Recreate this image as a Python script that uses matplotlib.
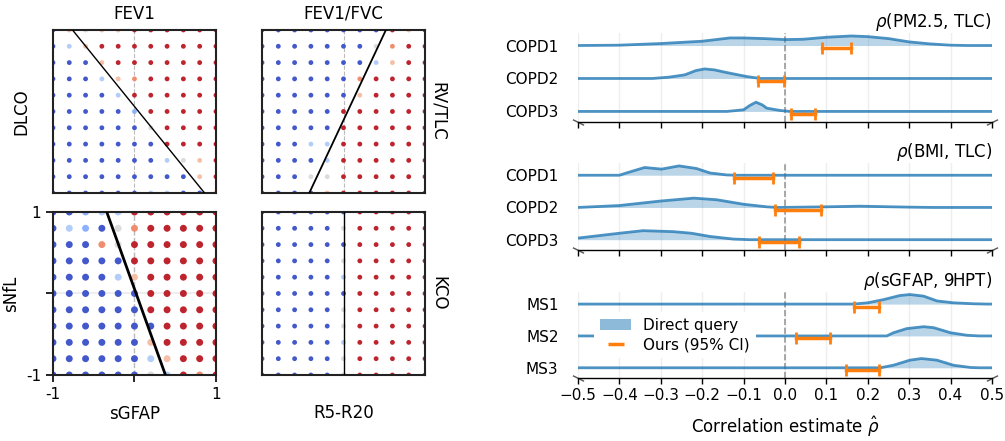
import numpy as np
import matplotlib.pyplot as plt
from matplotlib.patches import Patch
from matplotlib.lines import Line2D

# ---- left: decision grids (rows from y=1 down to y=-1, columns x=-1..1)
grid_vals = [-1.0, -0.8, -0.6, -0.4, -0.2, 0.0, 0.2, 0.4, 0.6, 0.8, 1.0]

fev1_dlco = ["BogooRRRRRR", "BloRRRRRRRR", "BBBoRRRRRRR", "BBBloORRRRR",
             "BBBBlRRRRRR", "BBBBBbRRRRR", "BBBBBBgRRRR", "BBBBBBBRRRR",
             "BBBBBBBlgoR", "BBBBBBBBBoR", "BBBBBBllBBo"]
sgfap_snfl = ["BBbllRRRRRR", "BlbBgORRRRR", "BBBOgRRRRRR", "BBBBBRRRRRR",
              "BBBBloRRRRR", "BBBBBBRRRRR", "BBBBBBRRRRR", "BBBBBBBRRRR",
              "BBBBBBoRRRR", "BBBBBBloRRR", "BBBBBBglROR"]
fvc_rvtlc = ["BBBBBBBBRoR", "BBBBBBBgORR", "BBBBBBBloRR", "BBBBBBORRRR",
             "BBBBBBoRRRR", "BBBBBRRRRRR", "BBBBBRRRRRR", "BBBllRRRRRR",
             "BBBBlRRRRRR", "BBBggRRRRRR", "BBBBoRRRRRR"]
r520_kco = ["BBBBBBRRRRR", "BBBBBgRRRRR", "BBBBBBRRRRR", "BBBBBgRRRRR",
            "BBBBBlRRRRR", "BBBBBBRRRRR", "BBBBBgRRRRR", "BBBBBgRRRRR",
            "BBBBBlRRRRR", "BBBBBgRRRRR", "BBBBBgRRRRR"]

# boundary lines: (x at y=1, x at y=-1)
fev1_dlco_line = (-0.76, 0.86)
sgfap_snfl_line = (-0.34, 0.38)
fvc_rvtlc_line = (0.52, -0.42)
r520_kco_line = (0.0, 0.0)

code_val = {'B': 0.03, 'b': 0.25, 'l': 0.36, 'g': 0.5, 'o': 0.64, 'O': 0.78, 'R': 0.97}

# ---- right: ridgelines
x_ticks = [-0.5, -0.4, -0.3, -0.2, -0.1, 0.0, 0.1, 0.2, 0.3, 0.4, 0.5]

pm_rows = ["COPD1", "COPD2", "COPD3"]
pm_c1_x = [-0.5, -0.4, -0.3, -0.2, -0.133, -0.1, -0.05, 0.0, 0.044, 0.1, 0.16, 0.2, 0.25, 0.3, 0.35, 0.4, 0.44, 0.5]
pm_c1_h = [0, 0.01, 0.06, 0.13, 0.23, 0.23, 0.21, 0.18, 0.19, 0.25, 0.29, 0.27, 0.21, 0.11, 0.05, 0.01, 0, 0]
pm_c2_x = [-0.5, -0.32, -0.28, -0.242, -0.215, -0.194, -0.17, -0.141, -0.093, -0.06, 0.5]
pm_c2_h = [0, 0, 0.04, 0.11, 0.24, 0.29, 0.26, 0.18, 0.06, 0, 0]
pm_c3_x = [-0.5, -0.14, -0.10, -0.085, -0.07, -0.055, -0.044, -0.012, 0.012, 0.5]
pm_c3_h = [0, 0, 0.05, 0.18, 0.28, 0.20, 0.10, 0.03, 0, 0]
pm_ci_lo = [0.09, -0.066, 0.015]
pm_ci_hi = [0.159, -0.002, 0.073]

bmi_rows = ["COPD1", "COPD2", "COPD3"]
bmi_c1_x = [-0.5, -0.40, -0.383, -0.339, -0.298, -0.256, -0.214, -0.181, -0.141, -0.12, 0.5]
bmi_c1_h = [0, 0, 0.07, 0.24, 0.19, 0.29, 0.21, 0.07, 0.01, 0, 0]
bmi_c2_x = [-0.5, -0.4, -0.3, -0.22, -0.165, -0.1, -0.044, -0.02, 0.1, 0.18, 0.3, 0.36, 0.5]
bmi_c2_h = [0, 0.06, 0.20, 0.29, 0.24, 0.10, 0.02, 0, 0.02, 0.04, 0.01, 0, 0]
bmi_c3_x = [-0.5, -0.4, -0.343, -0.27, -0.226, -0.181, -0.125, -0.085, 0.5]
bmi_c3_h = [0.05, 0.20, 0.28, 0.25, 0.20, 0.10, 0.02, 0, 0]
bmi_ci_lo = [-0.123, -0.025, -0.062]
bmi_ci_hi = [-0.029, 0.086, 0.035]

ms_rows = ["MS1", "MS2", "MS3"]
ms_c1_x = [-0.5, 0.165, 0.2, 0.238, 0.278, 0.302, 0.335, 0.367, 0.407, 0.456, 0.49, 0.5]
ms_c1_h = [0, 0, 0.04, 0.14, 0.27, 0.30, 0.25, 0.10, 0.04, 0.01, 0, 0]
ms_c2_x = [-0.5, 0.246, 0.262, 0.294, 0.335, 0.359, 0.4, 0.44, 0.47, 0.5]
ms_c2_h = [0, 0, 0.10, 0.23, 0.29, 0.26, 0.10, 0.02, 0, 0]
ms_c3_x = [-0.5, 0.23, 0.262, 0.302, 0.33, 0.367, 0.407, 0.448, 0.47, 0.5]
ms_c3_h = [0, 0, 0.08, 0.24, 0.29, 0.24, 0.08, 0.01, 0, 0]
ms_ci_lo = [0.166, 0.026, 0.148]
ms_ci_hi = [0.227, 0.108, 0.227]

BLUE = "#1f77b4"
ORANGE = "#ff7f0e"

fig = plt.figure(figsize=(10.05, 4.41), dpi=100)

def grid_panel(rect, codes, line, size, lw):
    ax = fig.add_axes(rect)
    X, Y, C = [], [], []
    for i, row in enumerate(codes):
        for j, ch in enumerate(row):
            X.append(grid_vals[j]); Y.append(grid_vals[::-1][i])
            C.append(plt.cm.coolwarm(code_val[ch]))
    ax.scatter(X, Y, s=size, c=C, linewidths=0, zorder=2)
    ax.plot([line[0], line[1]], [1, -1], color='k', lw=lw, zorder=3)
    ax.set_xlim(-1, 1); ax.set_ylim(-1, 1)
    ax.set_xticks([]); ax.set_yticks([])
    for s in ax.spines.values():
        s.set_linewidth(1.5); s.set_color('#222222')
    return ax

ax_tl = grid_panel([0.0527, 0.5624, 0.1622, 0.3696], fev1_dlco, fev1_dlco_line, 12, 1.0)
ax_tl.axvline(0, color='#bbbbbb', ls='--', lw=0.8, zorder=1)
ax_tl.set_title("FEV1", fontsize=12, pad=8)
ax_tl.set_ylabel("DLCO", fontsize=12, labelpad=16)

ax_bl = grid_panel([0.0527, 0.1497, 0.1622, 0.3696], sgfap_snfl, sgfap_snfl_line, 25, 2.0)
ax_bl.axvline(0, color='#bbbbbb', ls='--', lw=1.0, zorder=1)
ax_bl.axhline(0, color='#eeeeee', lw=1.5, zorder=1)
ax_bl.set_xticks([-1, 0, 1]); ax_bl.set_xticklabels(['-1', '', '1'], fontsize=11)
ax_bl.set_yticks([-1, 0, 1]); ax_bl.set_yticklabels(['-1', '', '1'], fontsize=11)
ax_bl.tick_params(length=5, width=1.2)
ax_bl.set_xlabel("sGFAP", fontsize=12, labelpad=2)
ax_bl.set_ylabel("sNfL", fontsize=12, labelpad=4)

ax_tr = grid_panel([0.2607, 0.5624, 0.1622, 0.3696], fvc_rvtlc, fvc_rvtlc_line, 12, 1.3)
ax_tr.axvline(0, color='#bbbbbb', ls='--', lw=0.8, zorder=1)
ax_tr.set_title("FEV1/FVC", fontsize=12, pad=8)
ax_tr.yaxis.set_label_position('right')
ax_tr.set_ylabel("RV/TLC", fontsize=12, rotation=270, labelpad=16)

ax_br = grid_panel([0.2607, 0.1497, 0.1622, 0.3696], r520_kco, r520_kco_line, 12, 1.0)
ax_br.yaxis.set_label_position('right')
ax_br.set_ylabel("KCO", fontsize=12, rotation=270, labelpad=16)
ax_br.set_xlabel("R5-R20", fontsize=12, labelpad=21)

def ridge_panel(rect, title, rows, curves, lo, hi, show_labels):
    ax = fig.add_axes(rect)
    n = len(rows)
    for k, (cx, ch) in enumerate(curves):
        base = n - 1 - k
        top = [base + h for h in ch]
        ax.fill_between(cx, base, top, color=BLUE, alpha=0.3, lw=0, zorder=2)
        ax.plot(cx, top, color=BLUE, alpha=0.8, lw=2, zorder=3)
        ax.plot([lo[k], hi[k]], [base - 0.08, base - 0.08], color=ORANGE, lw=2.5,
                marker='|', markersize=8, mew=2, zorder=5)
    ax.axvline(0, color='#999999', ls='--', lw=1.2, zorder=1)
    ax.set_xlim(-0.5, 0.5)
    ax.set_ylim(-0.32, 2.38)
    ax.set_xticks(x_ticks)
    ax.grid(axis='x', color='#eeeeee', lw=1, zorder=0)
    ax.set_axisbelow(True)
    ax.set_yticks(range(n)); ax.set_yticklabels(rows[::-1], fontsize=11)
    ax.tick_params(axis='y', length=0, pad=14)
    ax.tick_params(axis='x', length=4, width=1, labelsize=11)
    if not show_labels:
        ax.set_xticklabels([])
    for s in ['top', 'left', 'right']:
        ax.spines[s].set_visible(False)
    ax.spines['bottom'].set_linewidth(1.0)
    ax.set_title(title, loc='right', fontsize=12, pad=4)
    # small break marks at spine ends
    ax.plot([0], [0], transform=ax.transAxes, marker=[(-1, 0.5), (1, -0.5)],
            markersize=8, color='#555555', mew=1, ls='none', clip_on=False)
    ax.plot([1], [0], transform=ax.transAxes, marker=[(-1, -0.5), (1, 0.5)],
            markersize=8, color='#555555', mew=1, ls='none', clip_on=False)
    return ax

ax_r1 = ridge_panel([0.5751, 0.7234, 0.4119, 0.2018], "$\\rho$(PM2.5, TLC)", pm_rows,
                    [(pm_c1_x, pm_c1_h), (pm_c2_x, pm_c2_h), (pm_c3_x, pm_c3_h)],
                    pm_ci_lo, pm_ci_hi, False)
ax_r2 = ridge_panel([0.5751, 0.4331, 0.4119, 0.1973], "$\\rho$(BMI, TLC)", bmi_rows,
                    [(bmi_c1_x, bmi_c1_h), (bmi_c2_x, bmi_c2_h), (bmi_c3_x, bmi_c3_h)],
                    bmi_ci_lo, bmi_ci_hi, False)
ax_r3 = ridge_panel([0.5751, 0.1429, 0.4119, 0.1950], "$\\rho$(sGFAP, 9HPT)", ms_rows,
                    [(ms_c1_x, ms_c1_h), (ms_c2_x, ms_c2_h), (ms_c3_x, ms_c3_h)],
                    ms_ci_lo, ms_ci_hi, True)
ax_r3.set_xlabel("Correlation estimate $\\hat{\\rho}$", fontsize=12, labelpad=8)

handles = [Patch(facecolor=BLUE, alpha=0.5, edgecolor='none'),
           Line2D([], [], color=ORANGE, marker='_', ls='none', markersize=11, mew=2.5)]
leg = ax_r3.legend(handles, ["Direct query", "Ours (95% CI)"], loc='center left',
                   bbox_to_anchor=(0.039, 0.5), borderaxespad=0, fontsize=11,
                   frameon=True, fancybox=False, framealpha=1, edgecolor='none',
                   handlelength=2.0, labelspacing=0.3)
leg.set_zorder(10)

fig.savefig("out.png", dpi=100)
